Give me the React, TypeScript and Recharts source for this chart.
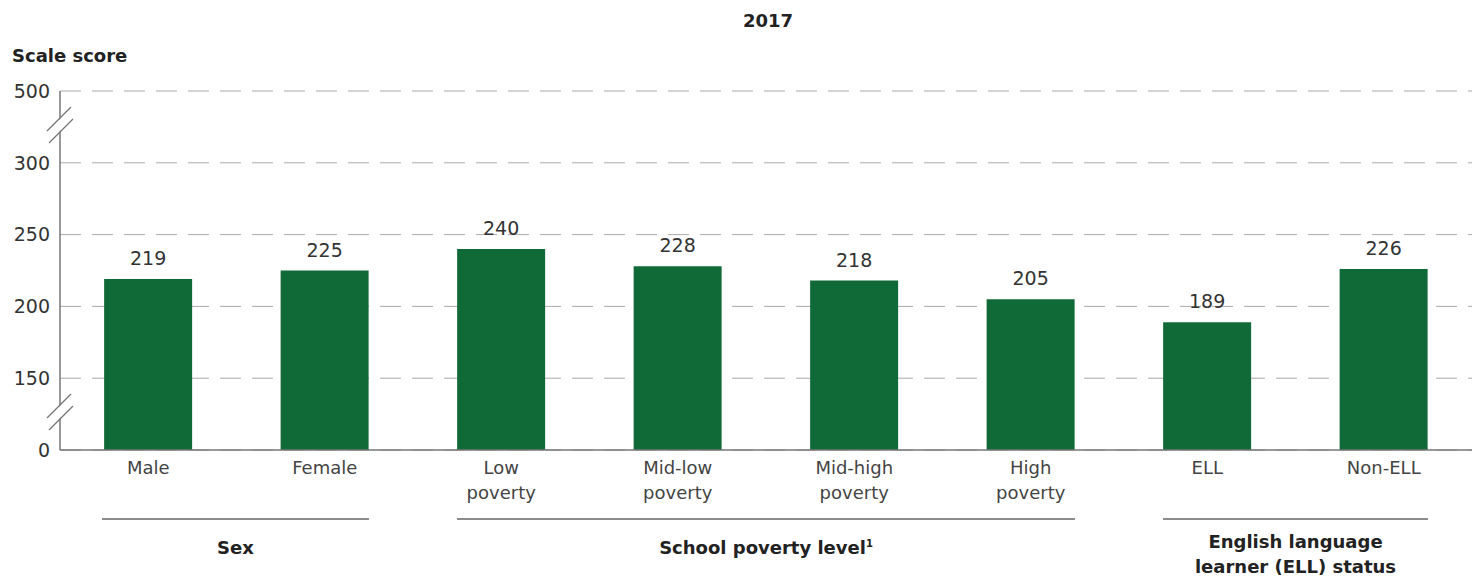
import React from 'react';
import { BarChart, Bar, XAxis, YAxis, CartesianGrid, LabelList } from 'recharts';

// categories (tick labels, split over lines) and scores
const categories = ['Male', 'Female', 'Low|poverty', 'Mid-low|poverty', 'Mid-high|poverty', 'High|poverty', 'ELL', 'Non-ELL'];
const scores = [219, 225, 240, 228, 218, 205, 189, 226];

// broken axis: ticks are evenly spaced even though the values aren't
const tickValues = [0, 150, 200, 250, 300, 500];

const groups = [
  { label: ['Sex'], from: 102, to: 369 },
  { label: ['School poverty level'], sup: '1', from: 457, to: 1075 },
  { label: ['English language', 'learner (ELL) status'], from: 1163, to: 1428 },
];

const GREEN = '#106a37';
const FONT = '"DejaVu Sans", Verdana, sans-serif';

// map a score to its position on the broken scale (index between ticks)
function toScale(v: number) {
  for (let i = 1; i < tickValues.length; i++) {
    if (v <= tickValues[i]) {
      const lo = tickValues[i - 1];
      const hi = tickValues[i];
      return i - 1 + (v - lo) / (hi - lo);
    }
  }
  return tickValues.length - 1;
}

const data = categories.map((c, i) => ({ name: c, score: scores[i], pos: toScale(scores[i]) }));

const CatTick = (props: any) => {
  const { x, y, payload } = props;
  const lines = String(payload.value).split('|');
  return (
    <text x={x} y={y} textAnchor="middle" fill="#444" fontSize={18} fontFamily={FONT}>
      {lines.map((l, i) => (
        <tspan key={i} x={x} dy={i === 0 ? 16 : 25}>{l}</tspan>
      ))}
    </text>
  );
};

const BreakMark = ({ cx, cy }: { cx: number; cy: number }) => (
  <g>
    <polygon points={`${cx - 12},${cy + 6} ${cx + 12},${cy - 18} ${cx + 12},${cy - 6} ${cx - 12},${cy + 18}`} fill="#fff" />
    <line x1={cx - 13} y1={cy + 6} x2={cx + 11} y2={cy - 18} stroke="#777" strokeWidth={1.3} />
    <line x1={cx - 11} y1={cy + 18} x2={cx + 13} y2={cy - 6} stroke="#777" strokeWidth={1.3} />
  </g>
);

export default function App() {
  return (
    <div style={{ position: 'absolute', left: 0, top: 0, width: 1472, height: 578, background: '#fff', fontFamily: FONT }}>
      <BarChart width={1472} height={578} data={data} margin={{ top: 91, right: 0, bottom: 0, left: 0 }} barCategoryGap="25%">
        <CartesianGrid vertical={false} stroke="#aaa" strokeDasharray="21 11" />
        <XAxis
          dataKey="name"
          height={128}
          tick={<CatTick />}
          tickLine={false}
          axisLine={{ stroke: '#777', strokeWidth: 1.5 }}
          interval={0}
        />
        <YAxis
          width={60}
          domain={[0, tickValues.length - 1]}
          ticks={tickValues.map((_, i) => i)}
          tickFormatter={(v: number) => String(tickValues[v])}
          tickLine={false}
          tickMargin={4}
          axisLine={{ stroke: '#777', strokeWidth: 1.5 }}
          tick={{ fill: '#333', fontSize: 19, fontFamily: FONT }}
        />
        <Bar dataKey="pos" fill={GREEN} isAnimationActive={false}>
          <LabelList dataKey="score" position="top" offset={14} fill="#333" fontSize={19} fontFamily={FONT} />
        </Bar>
      </BarChart>
      <svg width={1472} height={578} style={{ position: 'absolute', left: 0, top: 0, pointerEvents: 'none' }}>
        <text x={768} y={27} textAnchor="middle" fontWeight="bold" fontSize={18} fill="#222" fontFamily={FONT}>2017</text>
        <text x={12} y={62} fontWeight="bold" fontSize={18} fill="#222" fontFamily={FONT}>Scale score</text>
        <BreakMark cx={60} cy={125} />
        <BreakMark cx={60} cy={412} />
        {groups.map((g, i) => {
          const cx = (g.from + g.to) / 2;
          return (
            <g key={i}>
              <line x1={g.from} y1={519} x2={g.to} y2={519} stroke="#666" strokeWidth={1.5} />
              {g.label.map((l, j) => (
                <text key={j} x={cx} y={(g.label.length > 1 ? 548 : 554) + j * 25} textAnchor="middle" fontWeight="bold" fontSize={18} fill="#222" fontFamily={FONT}>
                  {l}
                  {g.sup && j === 0 ? <tspan fontSize={10} dy={-7}>{g.sup}</tspan> : null}
                </text>
              ))}
            </g>
          );
        })}
      </svg>
    </div>
  );
}
